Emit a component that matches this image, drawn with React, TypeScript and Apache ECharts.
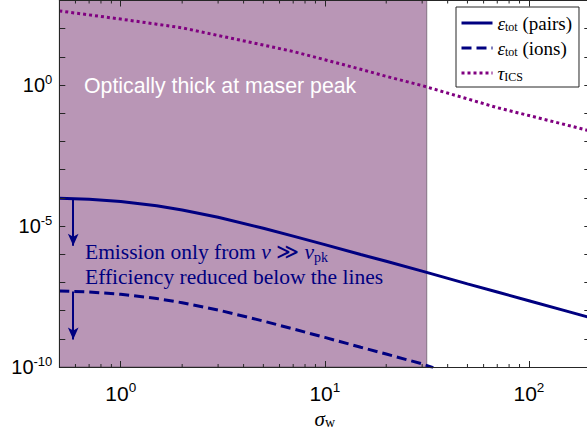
import React, { useEffect, useRef } from 'react';
import * as echarts from 'echarts';

// sigma_w sample points
const sigma = [0.5, 0.7, 1, 1.5, 2, 3, 5, 7, 10, 15, 20, 30, 50, 70, 100, 150, 200];
// epsilon_tot (pairs)
const epsPairs = [9.77e-5, 8.91e-5, 7.41e-5, 5.25e-5, 3.72e-5, 2.04e-5, 8.32e-6, 4.37e-6, 2.19e-6, 9.77e-7, 5.62e-7, 2.51e-7, 8.91e-8, 4.57e-8, 2.24e-8, 1.0e-8, 5.6e-9];
// tau_ICS
const tauICS = [427, 309, 219, 145, 107, 57.5, 26.3, 15.5, 7.94, 3.63, 2.04, 0.955, 0.324, 0.158, 0.0832, 0.0398, 0.0234];
// epsilon_tot (ions)
const sigmaIons = [0.5, 0.7, 1, 1.5, 2, 3, 5, 7, 10, 15, 20, 30, 34];
const epsIons = [5.01e-8, 4.57e-8, 3.8e-8, 2.69e-8, 1.91e-8, 1.05e-8, 4.27e-9, 2.24e-9, 1.12e-9, 5.01e-10, 2.88e-10, 1.29e-10, 9.5e-11];

const thickLimit = 31.6; // sigma where tau_ICS = 1
const xMin = 0.5;
const xMax = 200;
const yMin = 1e-10;
const yMax = 1e3;
const minorTicks = [0.6, 0.7, 0.8, 0.9, 2, 3, 4, 5, 6, 7, 8, 9, 20, 30, 40, 50, 60, 70, 80, 90];
const arrowSigma = 0.585;
const arrows = [
  [9.4e-5, 2.0e-6],
  [4.8e-8, 9.5e-10],
];

const NAVY = '#000080';
const PURPLE = '#800080';
const AXIS = '#262626';
const SANS = 'Liberation Sans';
const SERIF = 'Liberation Serif';

function measure(text: string, font: string): number {
  const s = document.createElement('span');
  s.style.font = font;
  s.style.whiteSpace = 'pre';
  s.style.position = 'absolute';
  s.style.visibility = 'hidden';
  s.textContent = text;
  document.body.appendChild(s);
  const w = s.getBoundingClientRect().width;
  s.remove();
  return w;
}

export default function App() {
  const ref = useRef<HTMLDivElement>(null);
  useEffect(() => {
    if (!ref.current) return;
    const chart = echarts.init(ref.current, null, { renderer: 'svg' });
    const expOf = (v: number) => Math.round(Math.log10(v) * 1000) / 1000;

    const xLabelFmt = (v: number) => {
      const e = expOf(v);
      if (Math.abs(e - Math.round(e)) > 1e-6) return '';
      return '{b|10}{s|' + Math.round(e) + '}';
    };
    const yLabelFmt = (v: number) => {
      const e = Math.round(Math.log10(v));
      if (e % 5 !== 0) return '';
      return '{b|10}{s|' + e + '}';
    };

    // First annotation line, composed of pieces measured in the DOM
    const fReg = `21.5px "${SERIF}"`;
    const fIt = `italic 21.5px "${SERIF}"`;
    const fSub = `14px "${SERIF}"`;
    const pieces = [
      { t: 'Emission only from ', f: fReg, dy: 0 },
      { t: 'ν', f: fIt, dy: 0 },
      { t: ' ≫ ', f: fReg, dy: 0 },
      { t: 'ν', f: fIt, dy: 0 },
      { t: 'pk', f: fSub, dy: 5 },
    ];
    let cx = 85;
    const line1: any[] = pieces.map((p) => {
      const el = {
        type: 'text',
        x: cx,
        y: 252 + p.dy,
        z: 20,
        style: { text: p.t, fill: NAVY, font: p.f, textVerticalAlign: 'middle' },
      };
      cx += measure(p.t, p.f);
      return el;
    });

    const option: any = {
      animation: false,
      backgroundColor: '#ffffff',
      grid: { left: 59.3, top: 0.5, width: 531, height: 366.5, outerBoundsMode: 'none', containLabel: false },
      legend: {
        orient: 'vertical',
        left: 456,
        top: 7,
        padding: [6, 7, 4, 4],
        itemWidth: 31,
        itemHeight: 12,
        itemGap: 5,
        backgroundColor: '#ffffff',
        borderColor: AXIS,
        borderWidth: 1,
        borderRadius: 0,
        data: ['pairs', 'ions', 'tau'],
        itemStyle: { opacity: 0 },
        lineStyle: { width: 3, opacity: 1 },
        formatter: (name: string) => {
          if (name === 'pairs') return '{i|ε}{sub|tot}{t| (pairs)}';
          if (name === 'ions') return '{i|ε}{sub|tot}{t| (ions)}';
          return '{i|τ}{sub|ICS}';
        },
        textStyle: {
          color: '#000',
          fontFamily: SERIF,
          fontSize: 19,
          rich: {
            i: { fontFamily: SERIF, fontStyle: 'italic', fontSize: 19, lineHeight: 20, color: '#000' },
            sub: { fontFamily: SERIF, fontSize: 12, padding: [8, 0, 0, 0], lineHeight: 20, color: '#000' },
            t: { fontFamily: SERIF, fontSize: 19, lineHeight: 20, color: '#000' },
          },
        },
      },
      xAxis: [
        {
          type: 'log', min: xMin, max: xMax, position: 'bottom', z: 5,
          axisLine: { show: true, lineStyle: { color: AXIS, width: 1 } },
          axisTick: { show: true, inside: true, length: 6, lineStyle: { color: AXIS, width: 1 } },
          splitLine: { show: false },
          axisLabel: {
            margin: 13,
            formatter: xLabelFmt,
            rich: {
              b: { fontFamily: SANS, fontSize: 21, color: '#000' },
              s: { fontFamily: SANS, fontSize: 13.5, padding: [0, 0, 12, 0], color: '#000' },
            },
          },
          name: '{i|σ}{sub|w}',
          nameLocation: 'middle',
          nameGap: 40,
          nameTextStyle: {
            rich: {
              i: { fontFamily: SERIF, fontStyle: 'italic', fontSize: 21, color: '#000' },
              sub: { fontFamily: SERIF, fontSize: 14, padding: [8, 0, 0, 0], color: '#000' },
            },
          },
        },
        {
          type: 'log', min: xMin, max: xMax, position: 'top', z: 5,
          axisLine: { show: true, lineStyle: { color: AXIS, width: 1 } },
          axisTick: { show: true, inside: true, length: 6, lineStyle: { color: AXIS, width: 1 } },
          splitLine: { show: false },
          axisLabel: { show: false },
        },
      ],
      yAxis: [
        {
          type: 'log', min: yMin, max: yMax, interval: 1, position: 'left', z: 5,
          axisLine: { show: true, lineStyle: { color: AXIS, width: 1 } },
          axisTick: { show: true, inside: true, length: 6, lineStyle: { color: AXIS, width: 1 } },
          splitLine: { show: false },
          axisLabel: {
            margin: 7,
            formatter: yLabelFmt,
            rich: {
              b: { fontFamily: SANS, fontSize: 20, color: '#000' },
              s: { fontFamily: SANS, fontSize: 13, padding: [0, 0, 12, 0], color: '#000' },
            },
          },
        },
        {
          type: 'log', min: yMin, max: yMax, interval: 1, position: 'right', z: 5,
          axisLine: { show: true, lineStyle: { color: AXIS, width: 1 } },
          axisTick: { show: true, inside: true, length: 6, lineStyle: { color: AXIS, width: 1 } },
          splitLine: { show: false },
          axisLabel: { show: false },
        },
      ],
      series: [
        {
          name: 'shade', type: 'line', data: [], symbol: 'none', silent: true,
          markArea: {
            silent: true,
            itemStyle: { color: '#B996B6', borderColor: 'rgba(70,60,70,0.7)', borderWidth: 0.8 },
            data: [[{ xAxis: xMin }, { xAxis: thickLimit }]],
          },
        },
        {
          name: 'tau', type: 'line', symbol: 'none', z: 3,
          lineStyle: { color: PURPLE, width: 3, type: [3, 3], cap: 'butt' },
          itemStyle: { color: PURPLE },
          data: sigma.map((s, i) => [s, tauICS[i]]),
        },
        {
          name: 'pairs', type: 'line', symbol: 'none', z: 3,
          lineStyle: { color: NAVY, width: 3, type: 'solid' },
          itemStyle: { color: NAVY },
          data: sigma.map((s, i) => [s, epsPairs[i]]),
          markLine: {
            silent: true,
            symbol: ['none', 'arrow'],
            symbolSize: [8, 12],
            label: { show: false },
            lineStyle: { color: NAVY, width: 2, type: 'solid' },
            data: arrows.map((a) => [{ coord: [arrowSigma, a[0]] }, { coord: [arrowSigma, a[1]] }]),
          },
        },
        {
          name: 'ions', type: 'line', symbol: 'none', z: 3,
          lineStyle: { color: NAVY, width: 3, type: [10, 5], cap: 'butt' },
          itemStyle: { color: NAVY },
          data: sigmaIons.map((s, i) => [s, epsIons[i]]),
        },
        {
          name: 'minor', type: 'custom', silent: true, z: 6, xAxisIndex: 0, yAxisIndex: 0,
          encode: { x: 0, y: 1 },
          data: minorTicks.map((v) => [v, 1]),
          renderItem: (params: any, api: any) => {
            const x = api.coord([api.value(0), 1])[0];
            const cs = params.coordSys;
            const yb = cs.y + cs.height;
            const yt = cs.y;
            return {
              type: 'group',
              children: [
                { type: 'line', shape: { x1: x, y1: yb, x2: x, y2: yb - 3 }, style: { stroke: AXIS, lineWidth: 1 } },
                { type: 'line', shape: { x1: x, y1: yt, x2: x, y2: yt + 3 }, style: { stroke: AXIS, lineWidth: 1 } },
              ],
            };
          },
        },
      ],
      graphic: [
        {
          type: 'text', x: 84, y: 86, z: 20,
          style: { text: 'Optically thick at maser peak', fill: '#ffffff', font: `21.3px "${SANS}"`, textVerticalAlign: 'middle' },
        },
        ...line1,
        {
          type: 'text', x: 85, y: 277, z: 20,
          style: { text: 'Efficiency reduced below the lines', fill: NAVY, font: `21.5px "${SERIF}"`, textVerticalAlign: 'middle' },
        },
      ],
    };
    chart.setOption(option);
    return () => chart.dispose();
  }, []);
  return <div ref={ref} style={{ width: 587, height: 438, position: 'fixed', left: 0, top: 0 }} />;
}
